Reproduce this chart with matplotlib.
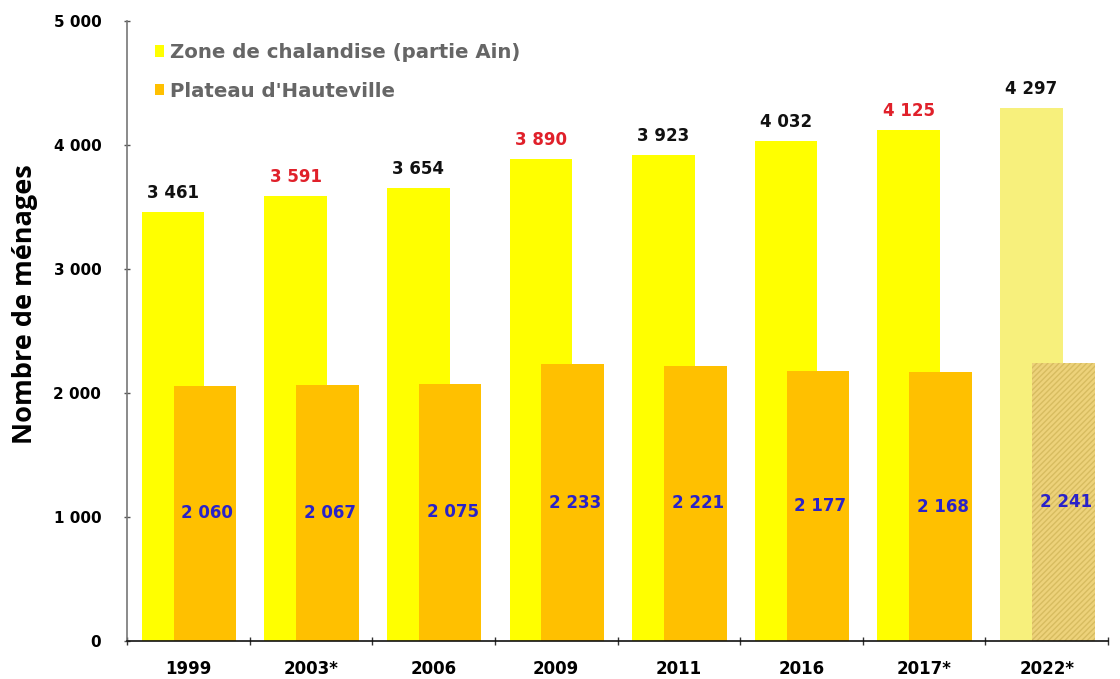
import matplotlib
matplotlib.use("Agg")
import matplotlib.pyplot as plt
from matplotlib.patches import Patch
import numpy as np

categories = ["1999", "2003*", "2006", "2009", "2011", "2016", "2017*", "2022*"]
zone = [3461, 3591, 3654, 3890, 3923, 4032, 4125, 4297]
plateau = [2060, 2067, 2075, 2233, 2221, 2177, 2168, 2241]
zone_label_colors = ["#111111", "#E0202A", "#111111", "#E0202A", "#111111", "#111111", "#E0202A", "#111111"]
yticks = [0, 1000, 2000, 3000, 4000, 5000]
ytick_labels = ["0", "1 000", "2 000", "3 000", "4 000", "5 000"]


def fmt(v):
    return f"{v:,}".replace(",", " ")


fig = plt.figure(figsize=(11.2, 6.79), dpi=100)
ax = fig.add_axes([127 / 1120, 1 - 641 / 679, (1108 - 127) / 1120, 620 / 679])

x = np.arange(len(categories))
w = 0.51
off_y = -0.125
off_o = 0.135

yellow = "#FFFF00"
orange = "#FFC000"
for i in range(len(categories)):
    last = i == len(categories) - 1
    ax.bar(x[i] + off_y, zone[i], width=w,
           color="#F7F07C" if last else yellow, linewidth=0, zorder=2)
    if last:
        ax.bar(x[i] + off_o, plateau[i], width=w, facecolor="#EDD27A",
               edgecolor="#D7BC60", hatch="//////", linewidth=0, zorder=3)
    else:
        ax.bar(x[i] + off_o, plateau[i], width=w, color=orange, linewidth=0, zorder=3)
    ax.annotate(fmt(zone[i]), (x[i] + off_y, zone[i]), xytext=(0, 7),
                textcoords="offset points", ha="center", va="bottom",
                fontsize=12, fontweight="bold", color=zone_label_colors[i],
                family="DejaVu Sans", zorder=5)
    ax.text(x[i] + off_o + 0.02, plateau[i] / 2, fmt(plateau[i]), ha="center", va="center",
            fontsize=12, fontweight="bold", color="#2A22C8", family="DejaVu Sans", zorder=5)

ax.set_xlim(-0.5, len(categories) - 0.5)
ax.set_ylim(0, 5000)
ax.set_yticks(yticks)
ax.set_yticklabels(ytick_labels, fontsize=11, fontweight="bold", family="DejaVu Sans")
ax.set_xticks(x)
ax.set_xticklabels(categories, fontsize=12, fontweight="bold", family="DejaVu Sans")
ax.set_xticks(np.arange(-0.5, len(categories)), minor=True)
ax.tick_params(axis="x", which="major", length=0, pad=14)
ax.tick_params(axis="x", which="minor", length=6, direction="inout", width=1, color="#333333")
ax.tick_params(axis="y", length=5, width=1, color="#555555", pad=16, direction="inout")

for s in ["top", "right"]:
    ax.spines[s].set_visible(False)
ax.spines["left"].set_color("#777777")
ax.spines["left"].set_linewidth(1.2)
ax.spines["bottom"].set_color("#111111")
ax.spines["bottom"].set_linewidth(1.2)
ax.spines["bottom"].set_zorder(6)

ax.set_ylabel("Nombre de ménages", fontsize=19.5, fontweight="bold",
              family=["Open Sans", "DejaVu Sans"])
ax.yaxis.set_label_coords(-0.091, (641 - 304) / 620)

handles = [Patch(facecolor=yellow, edgecolor="none"), Patch(facecolor=orange, edgecolor="none")]
leg = ax.legend(handles, ["Zone de chalandise (partie Ain)", "Plateau d'Hauteville"],
                loc="upper left", bbox_to_anchor=(0.01, 0.993), frameon=False,
                handlelength=0.5, handleheight=0.5, handletextpad=0.3, labelspacing=1.0,
                prop={"family": "DejaVu Sans", "weight": "bold", "size": 14.2})
for t in leg.get_texts():
    t.set_color("#666666")

fig.savefig("out.png", dpi=100)
